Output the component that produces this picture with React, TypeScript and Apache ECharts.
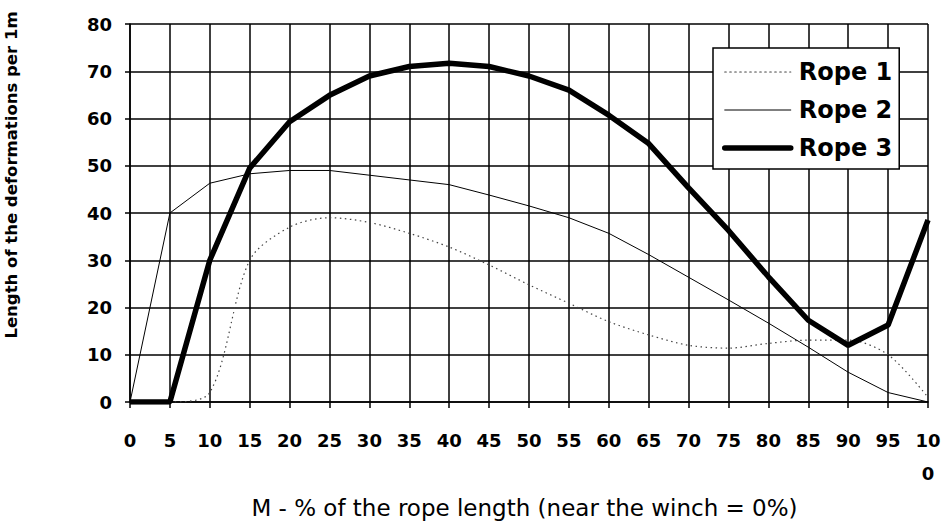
import React, { useEffect, useRef } from "react";
import * as echarts from "echarts";

const categories = ["0", "5", "10", "15", "20", "25", "30", "35", "40", "45", "50", "55", "60", "65", "70", "75", "80", "85", "90", "95", "100"];
const rope1 = [0, 0, 2, 30, 37, 39, 38, 35.7, 32.8, 29, 24.8, 20.9, 17, 14.2, 12, 11.4, 12.4, 13.1, 13.1, 10, 1];
const rope2 = [0, 40, 46.3, 48.3, 49, 49, 48, 47, 46, 43.8, 41.5, 39, 35.7, 31.2, 26.4, 21.6, 16.7, 11.6, 6.3, 2, 0];
const rope3 = [0, 0, 30, 49.5, 59.3, 64.9, 69, 71, 71.7, 71, 69, 66, 60.7, 54.7, 45.3, 36.3, 26.5, 17.3, 12, 16.3, 38.5];
const seriesNames = ["Rope 1", "Rope 2", "Rope 3"];
const xTitle = "M - % of the rope length (near the winch = 0%)";
const yTitle = "Length of the deformations per 1m";

const FONT = "DejaVu Sans";

export default function App() {
  const ref = useRef<HTMLDivElement>(null);
  useEffect(() => {
    document.body.style.margin = "0";
    const chart = echarts.init(ref.current!, null, { renderer: "svg" });
    chart.setOption({
      animation: false,
      backgroundColor: "#fff",
      grid: { left: 130, right: 14, top: 24, bottom: 122, containLabel: false, outerBoundsMode: "none" },
      legend: {
        orient: "vertical",
        left: 713,
        top: 48,
        padding: [12, 7, 9, 9],
        itemGap: 14,
        itemWidth: 66,
        itemHeight: 14,
        backgroundColor: "#fff",
        borderColor: "#000",
        borderWidth: 1.5,
        borderRadius: 0,
        data: seriesNames,
        itemStyle: { opacity: 0 },
        lineStyle: { width: "inherit", cap: "round" },
        textStyle: { fontFamily: FONT, fontWeight: "bold", fontSize: 24, color: "#000", padding: [0, 0, 0, 3] },
      },
      xAxis: {
        type: "category",
        boundaryGap: false,
        data: categories,
        name: xTitle,
        nameLocation: "middle",
        nameGap: 94,
        nameTextStyle: { fontFamily: FONT, fontSize: 23, color: "#000", padding: [0, 9, 0, 0] },
        axisLine: { lineStyle: { color: "#000", width: 1.5 } },
        axisTick: { show: true, interval: 0, length: 6, lineStyle: { color: "#000", width: 1.5 } },
        axisLabel: {
          interval: 0,
          fontFamily: FONT,
          fontWeight: "bold",
          fontSize: 18,
          color: "#000",
          margin: 22,
          lineHeight: 33,
          formatter: (v: string) => (v === "100" ? "10\n0" : v),
        },
        splitLine: { show: true, interval: 0, lineStyle: { color: "#000", width: 1.5 } },
      },
      yAxis: {
        type: "value",
        min: 0,
        max: 80,
        interval: 10,
        name: yTitle,
        nameLocation: "middle",
        nameGap: 110,
        nameRotate: 90,
        nameTextStyle: { fontFamily: FONT, fontWeight: "bold", fontSize: 16.5, color: "#000", padding: [0, 0, 0, 76] },
        axisLine: { show: true, lineStyle: { color: "#000", width: 1.5 } },
        axisTick: { show: true, length: 5, lineStyle: { color: "#000", width: 1.5 } },
        axisLabel: { fontFamily: FONT, fontWeight: "bold", fontSize: 18, color: "#000", margin: 18 },
        splitLine: { show: true, lineStyle: { color: "#000", width: 1.5 } },
      },
      series: [
        {
          name: seriesNames[0],
          type: "line",
          data: rope1,
          smooth: 0.3,
          showSymbol: false,
          symbol: "none",
          lineStyle: { color: "#444", width: 1.2, type: [1.5, 3.5] },
          itemStyle: { color: "#444" },
        },
        {
          name: seriesNames[1],
          type: "line",
          data: rope2,
          showSymbol: false,
          symbol: "none",
          lineStyle: { color: "#000", width: 1 },
          itemStyle: { color: "#000" },
        },
        {
          name: seriesNames[2],
          type: "line",
          data: rope3,
          showSymbol: false,
          symbol: "none",
          lineStyle: { color: "#000", width: 5.5 },
          itemStyle: { color: "#000" },
        },
      ],
    });
    return () => chart.dispose();
  }, []);
  return <div ref={ref} style={{ width: 942, height: 524 }} />;
}
